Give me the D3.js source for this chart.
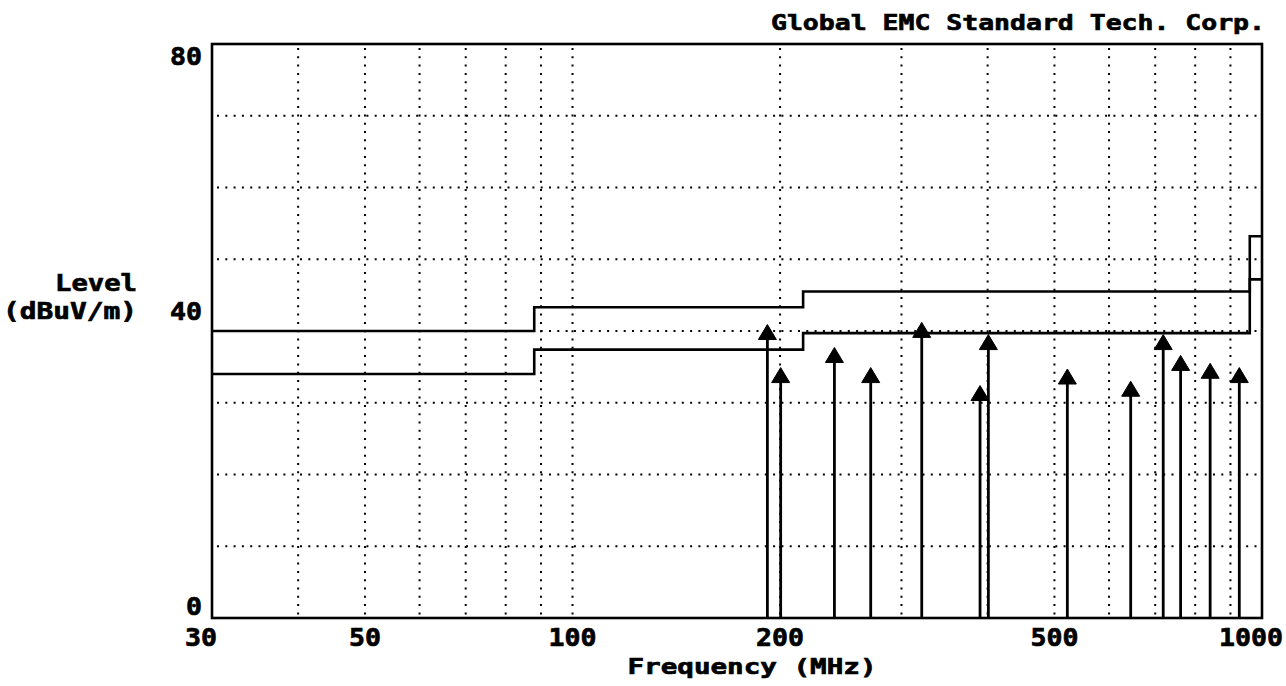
<!DOCTYPE html>
<html>
<head>
<meta charset="utf-8">
<script src="https://cdn.jsdelivr.net/npm/d3@7/dist/d3.min.js"></script>
<style>
  html, body { margin: 0; padding: 0; background: #fff; }
  svg { display: block; }
  text { font-family: "DejaVu Sans Mono", "Liberation Mono", monospace; font-weight: bold;
         fill: #000; stroke: #000; stroke-width: 0.7px; }
</style>
</head>
<body>
<svg id="chart" width="1286" height="686"></svg>
<script>
// Radiated emission scan, 30 MHz – 1 GHz
const freqTicks = [30, 50, 100, 200, 500, 1000];
const levelTicks = [0, 40, 80];
const gridFreqs = [40, 50, 60, 70, 80, 90, 100, 200, 300, 400, 500, 600, 700, 800, 900];
const gridLevels = [10, 20, 30, 40, 50, 60, 70];

// Limit line and margin line (band edges in MHz, level in dBuV/m per band)
const bandEdges = [30, 88, 216, 960, 1000];
const limitLevels = [40, 43.3, 45.5, 53.2];
const marginLevels = [34, 37.4, 39.7, 47.2];

// Measured peaks
const peakFreqs = [191.7, 200.4, 239.8, 270.7, 321, 390, 401, 522, 645, 719, 762, 841, 927];
const peakLevels = [40.9, 34.9, 37.7, 34.9, 41.2, 32.4, 39.5, 34.7, 33.0, 39.5, 36.6, 35.5, 34.9];

const svg = d3.select("#chart");
const plotL = 212, plotR = 1262, plotT = 44, plotB = 618;

const x = d3.scaleLog().domain([30, 1000]).range([plotL, plotR]);
const y = d3.scaleLinear().domain([0, 80]).range([plotB, plotT]);

// Dotted grid
const grid = svg.append("g").attr("stroke", "#000").attr("stroke-width", 2)
  .attr("stroke-dasharray", "2,6.3").attr("fill", "none");
grid.selectAll("line.v").data(gridFreqs).join("line")
  .attr("class", "v")
  .attr("x1", d => x(d)).attr("x2", d => x(d))
  .attr("y1", plotT + 4).attr("y2", plotB - 2);
grid.selectAll("line.h").data(gridLevels).join("line")
  .attr("class", "h")
  .attr("y1", d => y(d)).attr("y2", d => y(d))
  .attr("x1", plotL + 5).attr("x2", plotR - 2);

// Frame
svg.append("rect")
  .attr("x", plotL).attr("y", plotT)
  .attr("width", plotR - plotL).attr("height", plotB - plotT)
  .attr("fill", "none").attr("stroke", "#000").attr("stroke-width", 2.6);

// Step lines for limit and margin
const stepLine = d3.line()
  .x(d => x(d[0])).y(d => y(d[1]))
  .curve(d3.curveStepAfter);
function bandPoints(levels) {
  const pts = levels.map((v, i) => [bandEdges[i], v]);
  pts.push([bandEdges[bandEdges.length - 1], levels[levels.length - 1]]);
  return pts;
}
[limitLevels, marginLevels].forEach(levels => {
  svg.append("path")
    .attr("d", stepLine(bandPoints(levels)))
    .attr("fill", "none").attr("stroke", "#000").attr("stroke-width", 2.6);
});

// Peak markers: stem from the baseline with a solid arrowhead at the level
const peaks = peakFreqs.map((f, i) => ({ f, v: peakLevels[i] }));
const pk = svg.append("g");
pk.selectAll("line").data(peaks).join("line")
  .attr("x1", d => x(d.f)).attr("x2", d => x(d.f))
  .attr("y1", plotB).attr("y2", d => y(d.v) + 8)
  .attr("stroke", "#000").attr("stroke-width", 2.8);
const headH = 15, headW = 18;
pk.selectAll("path").data(peaks).join("path")
  .attr("d", d => {
    const cx = x(d.f), ty = y(d.v);
    return `M${cx},${ty} L${cx + headW / 2},${ty + headH} L${cx - headW / 2},${ty + headH} Z`;
  })
  .attr("fill", "#000").attr("stroke", "#000").attr("stroke-width", 1).attr("stroke-linejoin", "round");

// Axis tick labels (the end labels are pulled in so they stay on the page)
const lastTick = freqTicks.length - 1;
svg.append("g").selectAll("text").data(freqTicks).join("text")
  .attr("x", (d, i) => x(d) + (i === 0 || i === lastTick ? -11 : 0)).attr("y", 646)
  .attr("text-anchor", "middle")
  .attr("font-size", 25)
  .attr("textLength", d => String(d).length * 16)
  .attr("lengthAdjust", "spacingAndGlyphs")
  .text(d => d);

const levelLabelShift = v => (v === 80 ? 12 : v === 0 ? -12 : -20);
svg.append("g").selectAll("text").data(levelTicks).join("text")
  .attr("x", 202).attr("y", d => y(d) + levelLabelShift(d))
  .attr("dy", "0.36em")
  .attr("text-anchor", "end")
  .attr("font-size", 25)
  .attr("textLength", d => String(d).length * 16)
  .attr("lengthAdjust", "spacingAndGlyphs")
  .text(d => d);

// Titles
svg.append("text")
  .attr("x", 771).attr("y", 30)
  .attr("font-size", 22)
  .attr("textLength", 494).attr("lengthAdjust", "spacingAndGlyphs")
  .text("Global EMC Standard Tech. Corp.");

svg.append("text")
  .attr("x", 137).attr("y", 291).attr("text-anchor", "end")
  .attr("font-size", 23)
  .attr("textLength", 82).attr("lengthAdjust", "spacingAndGlyphs")
  .text("Level");
svg.append("text")
  .attr("x", 137).attr("y", 319).attr("text-anchor", "end")
  .attr("font-size", 23)
  .attr("textLength", 134).attr("lengthAdjust", "spacingAndGlyphs")
  .text("(dBuV/m)");

svg.append("text")
  .attr("x", 752).attr("y", 674).attr("text-anchor", "middle")
  .attr("font-size", 22)
  .attr("textLength", 249).attr("lengthAdjust", "spacingAndGlyphs")
  .text("Frequency (MHz)");
</script>
</body>
</html>
